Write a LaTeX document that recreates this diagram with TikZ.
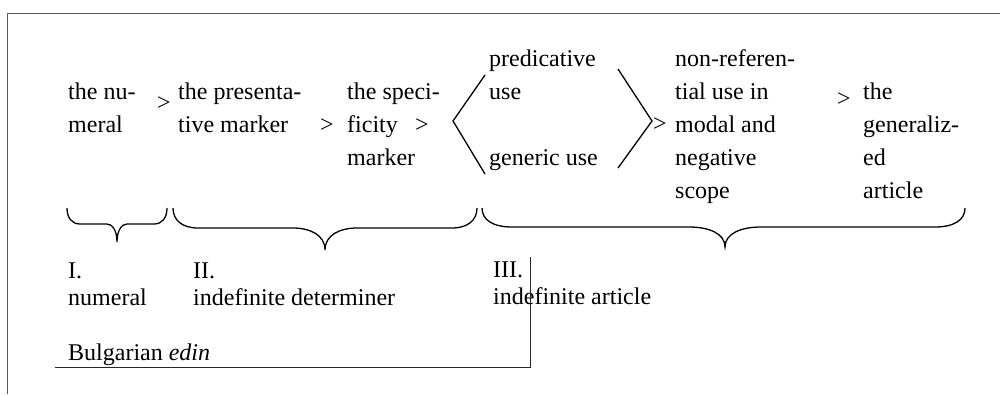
\documentclass[tikz,border=0pt]{standalone}
\usepackage{fontspec}
\setmainfont{Liberation Serif}
\newcommand\stk[1]{\vtop{\halign{##\hfil\cr#1\crcr}}}
\begin{document}
\begin{tikzpicture}[x=1pt,y=-1pt,
  txt/.style={anchor=base west,inner sep=0pt,font=\fontsize{24}{33}\selectfont},
  lbl/.style={anchor=base west,inner sep=0pt,font=\fontsize{24}{27}\selectfont},
  gt/.style={anchor=base west,inner sep=0pt,font=\fontsize{24}{33}\selectfont},
  ln/.style={line width=1.3pt,black},
  frameline/.style={line width=1pt,color=black!65},
  boxline/.style={line width=1pt,color=black!85}]
\useasboundingbox (0,0) rectangle (1000,394);
% frame
\draw[frameline] (1000,13) -- (7,13) -- (7,394);
% top row texts
\node[txt] (n1) at (68,99) {\stk{the nu-\cr meral}};
\node[txt] (n2) at (178,99) {\stk{the presenta-\cr tive marker}};
\node[txt] (n3) at (347,99) {\stk{the speci-\cr ficity\cr marker}};
\node[txt] (n4a) at (489,66) {\stk{predicative\cr use}};
\node[txt] (n4b) at (489,165) {generic use};
\node[txt] (n5) at (675,66) {\stk{non-referen-\cr tial use in\cr modal and\cr negative\cr scope}};
\node[txt] (n6) at (863,99) {\stk{the\cr generaliz-\cr ed\cr article}};
% greater-than signs
\node[gt] (g1) at (157,110) {>};
\node[gt] (g2) at (320,132) {>};
\node[gt] (g3) at (415,132) {>};
\node[gt] (g4) at (653,131) {>};
\node[gt] (g5) at (837,106) {>};
% angle brackets
\draw[ln] (485,75) -- (453,121) -- (485,174);
\draw[ln] (618,69) -- (652,121) -- (618,168);
% braces
\draw[ln] (67,208) .. controls (67,218) and (72,224) .. (80,224) -- (107,224)
  .. controls (112,224) and (117,230) .. (117,242)
  .. controls (117,230) and (122,224) .. (127,224) -- (154,224)
  .. controls (162,224) and (167,218) .. (167,208);
\draw[ln] (173,208) .. controls (173,220) and (182,228) .. (198,228) -- (293,228)
  .. controls (310,228) and (325,235) .. (325,250)
  .. controls (325,235) and (340,228) .. (357,228) -- (452,228)
  .. controls (468,228) and (477,220) .. (477,208);
\draw[ln] (482,208) .. controls (482,220) and (493,227) .. (512,227) -- (689,227)
  .. controls (708,227) and (725,233) .. (725,247)
  .. controls (725,233) and (742,227) .. (761,227) -- (935,227)
  .. controls (954,227) and (965,220) .. (965,208);
% lower labels
\node[lbl] (l1) at (68,278) {\stk{I.\cr numeral}};
\node[lbl] (l2) at (193,278) {\stk{II.\cr indefinite determiner}};
\node[lbl] (l3) at (493,277) {\stk{III.\cr indefinite article}};
\node[lbl] (bul) at (68,360) {Bulgarian \textit{edin}};
% Bulgarian edin bracket line
\coordinate (c1) at (55,367);
\coordinate (c2) at (530,367);
\coordinate (c3) at (530,257);
\draw[boxline] (c1) -- (c2) -- (c3);
\end{tikzpicture}
\end{document}
